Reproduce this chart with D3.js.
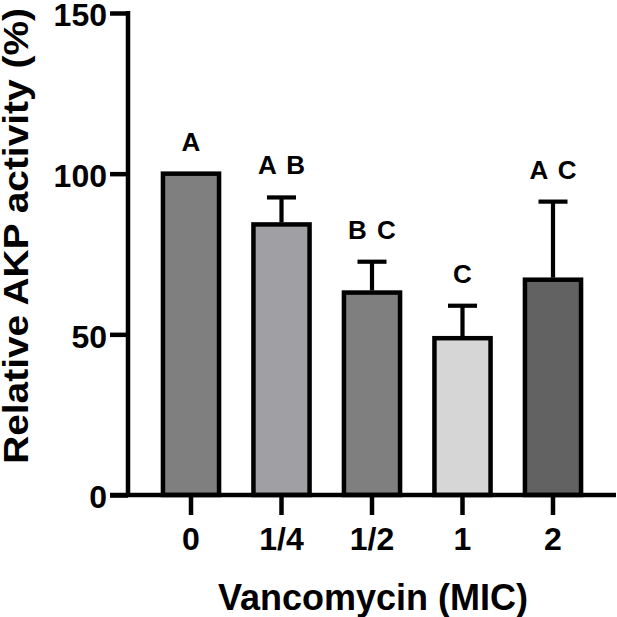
<!DOCTYPE html>
<html>
<head>
<meta charset="utf-8">
<script src="https://cdn.jsdelivr.net/npm/d3@7"></script>
<style>
  body { margin: 0; background: #fff; }
  text { font-family: Arial, "Liberation Sans", Helvetica, sans-serif; font-weight: bold; }
</style>
</head>
<body>
<svg width="617" height="617"></svg>
<script>
const categories = ['0', '1/4', '1/2', '1', '2'];
const means = [100, 84.2, 63, 48.8, 67];
const errors = [0, 8.4, 9.6, 10.1, 24.3];
const letters = ['A', 'A B', 'B C', 'C', 'A C'];
const fills = ['#7f7f7f', '#a09fa4', '#7f7f7f', '#d6d6d6', '#626262'];
const yTicks = [0, 50, 100, 150];

const svg = d3.select('svg');
const axisX = 128;
const y = d3.scaleLinear().domain([0, 150]).range([495, 13]);
const x = d3.scaleBand().domain(categories)
  .range([145.75, 598.25]).paddingInner(0.38).paddingOuter(0.19);

const data = categories.map((c, i) => ({
  cat: c, mean: means[i], err: errors[i], letter: letters[i], fill: fills[i],
}));

// bars
svg.append('g').selectAll('rect').data(data).join('rect')
  .attr('x', d => x(d.cat))
  .attr('y', d => y(d.mean))
  .attr('width', x.bandwidth())
  .attr('height', d => y(0) - y(d.mean))
  .attr('fill', d => d.fill)
  .attr('stroke', '#000')
  .attr('stroke-width', 4.5);

// error bars (upper only)
const eb = svg.append('g').attr('stroke', '#000').attr('stroke-width', 4.2);
data.filter(d => d.err > 0).forEach(d => {
  const cx = x(d.cat) + x.bandwidth() / 2;
  eb.append('line')
    .attr('x1', cx).attr('x2', cx)
    .attr('y1', y(d.mean) - 2).attr('y2', y(d.mean + d.err));
  eb.append('line')
    .attr('x1', cx - 14.5).attr('x2', cx + 14.5)
    .attr('y1', y(d.mean + d.err)).attr('y2', y(d.mean + d.err));
});

// significance letters
svg.append('g').selectAll('text').data(data).join('text')
  .attr('x', d => x(d.cat) + x.bandwidth() / 2)
  .attr('y', d => y(d.mean + d.err) - 23)
  .attr('text-anchor', 'middle')
  .attr('font-size', 26)
  .attr('word-spacing', 3)
  .text(d => d.letter);

// y axis
const yAxis = svg.append('g')
  .attr('transform', 'translate(' + axisX + ',0)')
  .call(d3.axisLeft(y).tickValues(yTicks).tickSize(18).tickPadding(3).tickSizeOuter(0));
yAxis.select('.domain').attr('stroke-width', 4.5)
  .attr('d', 'M0,' + (y(150) - 2) + 'V' + y(0));
yAxis.selectAll('.tick line').attr('stroke-width', 4.5);
yAxis.selectAll('.tick text').attr('font-size', 32).attr('fill', '#000')
  .attr('dy', '0.4em')
  .attr('font-family', 'Arial, "Liberation Sans", sans-serif');

// x axis
const xAxis = svg.append('g')
  .attr('transform', 'translate(0,' + y(0) + ')')
  .call(d3.axisBottom(x).tickSize(20).tickPadding(12).tickSizeOuter(0));
xAxis.select('.domain').attr('stroke-width', 4.5)
  .attr('d', 'M110,0H616');
xAxis.selectAll('.tick line').attr('stroke-width', 4.5);
xAxis.selectAll('.tick text').attr('font-size', 32).attr('fill', '#000')
  .attr('font-family', 'Arial, "Liberation Sans", sans-serif');

// axis titles
svg.append('text')
  .attr('x', 373).attr('y', 610)
  .attr('text-anchor', 'middle')
  .attr('font-size', 36)
  .text('Vancomycin (MIC)');

svg.append('text')
  .attr('transform', 'translate(28,236) rotate(-90) scale(1.08,1)')
  .attr('text-anchor', 'middle')
  .attr('font-size', 36)
  .text('Relative AKP activity (%)');
</script>
</body>
</html>
